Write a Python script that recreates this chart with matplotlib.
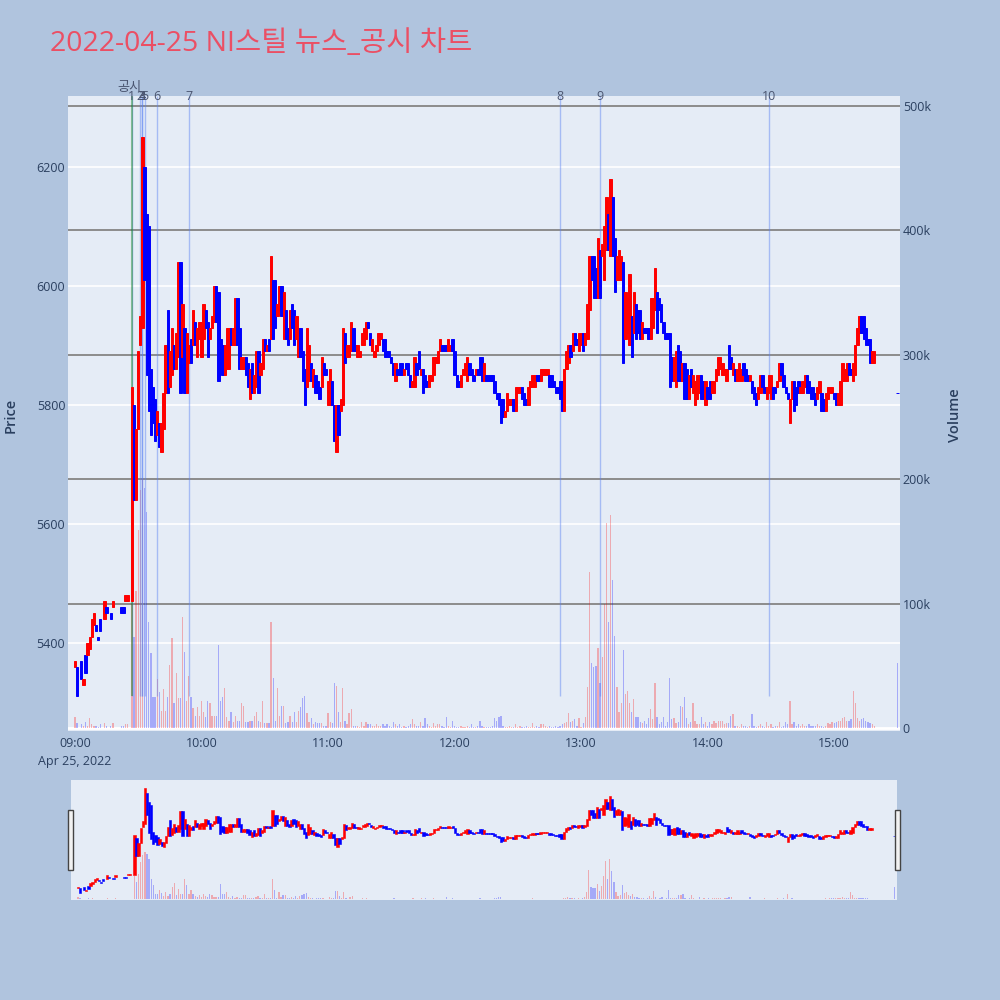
import matplotlib
matplotlib.use("Agg")
import matplotlib.pyplot as plt
from matplotlib.patches import Rectangle
import numpy as np

plt.rcParams['font.family'] = ['Open Sans', 'Noto Sans CJK KR', 'DejaVu Sans']

title = "2022-04-25 NI스틸 뉴스_공시 차트"

# minutes after 09:00 for the sparse opening bars
early_minutes = [0, 1, 3, 4, 5, 6, 7, 8, 9, 10, 11, 12, 14, 15, 17, 18, 22, 23, 24, 25]
early_open = [5360, 5360, 5370, 5330, 5380, 5380, 5390, 5410, 5430, 5430,
              5410, 5440, 5440, 5460, 5450, 5460, 5460, 5460, 5470, 5470]
early_close = [5370, 5310, 5340, 5340, 5350, 5400, 5410, 5440, 5450, 5420,
               5405, 5420, 5470, 5450, 5440, 5470, 5450, 5450, 5480, 5480]
early_volume_k = [9, 4, 3, 2, 5, 2, 8, 3, 2, 2, 1, 3, 4, 2, 2, 4, 2, 2, 3, 3]

# one bar per minute from 09:27 on
session_start = 27
session_open = [
    # 09:27
    5470, 5800, 5640, 5760, 5900, 5930, 6200, 6120, 6100, 5860,
    5830, 5810, 5750, 5770, 5720, 5760, 5820, 5960, 5830, 5850,
    5900, 5860, 5880, 6040, 5880, 5930, 5820, 5870, 5910, 5900,
    5940, 5880, 5910, 5880, 5910, 5960, 5940, 5910, 5930, 5940,
    6000, 5990, 5910, 5900, 5850, 5860, 5860, 5930, 5900, 5900,
    5980, 5930, 5860, 5860, 5880, 5870, 5810, 5870, 5820, 5830,
    5890, 5850, 5860, 5910, 5890,
    # 10:32
    5910, 5910, 6010, 6010, 5950, 5960, 6000, 5910, 5960, 5930,
    5910, 5970, 5960, 5910, 5880, 5930, 5890, 5860, 5830, 5840,
    5870, 5830, 5850, 5840, 5830, 5830, 5870, 5860, 5800, 5800,
    5840, 5800, 5720, 5800, 5790, 5800, 5920, 5880, 5880, 5890,
    5930, 5900, 5880, 5880, 5900, 5900, 5910, 5940, 5920, 5890, 5880,
    5890, 5900, 5910, 5910, 5910, 5890, 5890, 5880, 5870, 5840,
    5860, 5870, 5870, 5850, 5870, 5870, 5850, 5830, 5830, 5870,
    5890, 5850, 5860, 5850, 5840, 5830, 5840, 5850, 5870, 5870,
    5890, 5900, 5900, 5900, 5890, 5890, 5910, 5890, 5850, 5840,
    5830, 5850, 5850, 5840, 5870, 5860, 5850, 5850, 5860, 5880,
    5880, 5840, 5850, 5850,
    5850, 5850, 5840, 5820, 5820, 5810, 5810, 5780, 5790, 5800,
    5800, 5810, 5790, 5820, 5820, 5830, 5820, 5810, 5800, 5830,
    5830, 5830, 5850, 5850,
    # 12:41
    5840, 5850, 5850, 5850, 5850, 5850, 5840, 5830, 5830, 5840,
    5840, 5790, 5860, 5870, 5900, 5890, 5920, 5910, 5890, 5900,
    5920, 5900, 5910, 5960, 6050, 6050, 6030, 5980, 6060, 6050,
    6010, 6060, 6120, 6050, 6150, 6080, 6010, 6010, 6010, 6040,
    5910, 5920, 5900, 5950, 5920, 5970, 5960, 5960, 5910, 5930,
    5930, 5930, 5910, 5930, 5960, 5990, 5980, 5970, 5940, 5920,
    5920, 5920, 5880, 5840, 5830, 5900, 5890, 5840, 5870, 5860,
    5810, 5860, 5820, 5800, 5810, 5820, 5850, 5840, 5800, 5830,
    5840, 5820, 5820, 5840, 5850, 5860, 5850, 5850, 5840, 5900,
    5880, 5850, 5860, 5840, 5840,
    # 14:16
    5840, 5870, 5860, 5850, 5840, 5840, 5830, 5820, 5810, 5820,
    5850, 5830, 5810, 5820, 5810, 5830, 5830, 5830, 5840, 5870,
    5850, 5830, 5820, 5770, 5810, 5840, 5830, 5840, 5820, 5820,
    5830, 5850, 5840, 5830, 5830, 5820, 5810, 5820, 5820, 5810,
    5790, 5810, 5820, 5820, 5820, 5820, 5800, 5800, 5840, 5840,
    5840, 5870, 5860, 5840, 5850, 5900, 5920, 5950, 5950, 5930,
    5910, 5910, 5870, 5870,
]
session_close = [
    5830, 5640, 5760, 5890, 5950, 6250, 6010, 5850, 5790, 5750,
    5770, 5740, 5790, 5730, 5770, 5820, 5900, 5820, 5890, 5930,
    5860, 5920, 6040, 5820, 5970, 5820, 5920, 5900, 5870, 5960,
    5900, 5930, 5940, 5940, 5970, 5930, 5880, 5930, 5950, 6000,
    5940, 5840, 5860, 5850, 5900, 5930, 5930, 5900, 5930, 5980,
    5900, 5860, 5880, 5880, 5850, 5830, 5860, 5820, 5850, 5890,
    5820, 5870, 5910, 5890, 5900,
    5890, 6050, 5910, 5930, 5970, 6000, 5950, 5990, 5910, 5900,
    5960, 5930, 5900, 5950, 5930, 5880, 5840, 5800, 5930, 5900,
    5840, 5860, 5820, 5820, 5810, 5880, 5850, 5850, 5840, 5860,
    5800, 5740, 5800, 5750, 5810, 5930, 5870, 5900, 5900, 5940,
    5890, 5890, 5900, 5890, 5920, 5930, 5940, 5930, 5900, 5910, 5890,
    5900, 5920, 5920, 5890, 5880, 5880, 5880, 5870, 5850, 5870,
    5850, 5850, 5850, 5860, 5860, 5850, 5830, 5840, 5880, 5850,
    5860, 5860, 5820, 5830, 5830, 5850, 5850, 5880, 5880, 5890,
    5910, 5890, 5890, 5890, 5910, 5900, 5890, 5850, 5830, 5830,
    5850, 5860, 5870, 5880, 5850, 5850, 5840, 5860, 5850, 5850,
    5840, 5870, 5840, 5840,
    5840, 5840, 5820, 5810, 5800, 5770, 5780, 5790, 5820, 5810,
    5810, 5790, 5830, 5830, 5830, 5810, 5800, 5800, 5830, 5840,
    5850, 5850, 5840, 5840,
    5860, 5860, 5860, 5860, 5830, 5830, 5830, 5820, 5820, 5810,
    5790, 5860, 5890, 5900, 5880, 5920, 5900, 5900, 5920, 5920,
    5890, 5920, 5970, 6050, 6010, 5980, 5980, 6080, 5980, 6070,
    6100, 6150, 6060, 6180, 6050, 5990, 6050, 6060, 6050, 5870,
    5990, 5980, 6020, 5880, 5990, 5910, 5920, 5910, 5940, 5920,
    5920, 5910, 5980, 5980, 6030, 5920, 5960, 5940, 5920, 5910,
    5910, 5830, 5840, 5880, 5890, 5840, 5840, 5870, 5810, 5810,
    5850, 5830, 5850, 5840, 5850, 5850, 5810, 5810, 5840, 5810,
    5810, 5840, 5840, 5860, 5880, 5880, 5870, 5860, 5860, 5860,
    5860, 5870, 5840, 5860, 5870,
    5860, 5850, 5840, 5840, 5850, 5820, 5810, 5800, 5830, 5850,
    5830, 5820, 5830, 5850, 5850, 5810, 5820, 5840, 5870, 5850,
    5830, 5820, 5810, 5810, 5840, 5790, 5800, 5820, 5830, 5840,
    5850, 5820, 5820, 5810, 5810, 5800, 5830, 5840, 5790, 5790,
    5820, 5830, 5830, 5830, 5810, 5800, 5820, 5840, 5870, 5860,
    5870, 5850, 5850, 5870, 5900, 5930, 5950, 5920, 5910, 5900,
    5900, 5870, 5890, 5890,
]
session_volume_k = [
    100, 73, 110, 159, 191, 200, 193, 174, 85, 60,
    25, 25, 39, 29, 14, 31, 14, 25, 51, 72,
    20, 44, 24, 24, 89, 61, 22, 42, 25, 16,
    10, 17, 10, 22, 13, 9, 22, 20, 10, 10,
    10, 67, 22, 25, 32, 9, 6, 13, 5, 10,
    6, 6, 20, 18, 5, 5, 6, 6, 10, 13,
    6, 5, 22, 4, 4,
    4, 85, 40, 6, 32, 10, 18, 18, 4, 5,
    10, 5, 13, 5, 14, 17, 24, 26, 12, 5,
    8, 3, 5, 4, 4, 4, 2, 2, 12, 5,
    4, 36, 34, 13, 5, 32, 6, 3, 12, 15,
    2, 2, 2, 1, 5, 2, 5, 3, 3, 2, 2,
    3, 2, 2, 3, 2, 3, 2, 1, 5, 3,
    2, 3, 1, 2, 1, 2, 3, 7, 3, 2,
    2, 5, 2, 8, 3, 2, 1, 4, 2, 3,
    3, 2, 1, 9, 2, 1, 6, 2, 1, 1,
    2, 1, 1, 2, 1, 3, 1, 1, 2, 6,
    2, 1, 1, 1,
    1, 2, 8, 6, 9, 10, 2, 1, 1, 2,
    1, 1, 3, 1, 2, 1, 1, 2, 1, 1,
    4, 1, 2, 1,
    3, 3, 2, 1, 2, 1, 1, 2, 1, 2,
    3, 4, 5, 12, 5, 6, 7, 2, 8, 1,
    4, 9, 33, 125, 52, 49, 50, 64, 36, 57,
    100, 165, 85, 171, 119, 74, 33, 13, 20, 63,
    27, 30, 20, 13, 23, 9, 9, 5, 4, 6,
    3, 8, 15, 7, 36, 9, 3, 5, 9, 2,
    5, 40, 7, 8, 4, 5, 18, 17, 25, 8,
    3, 5, 20, 6, 3, 3, 9, 3, 5, 2,
    5, 3, 6, 4, 6, 6, 6, 3, 4, 4,
    10, 11, 2, 2, 1,
    3, 2, 2, 1, 2, 11, 2, 1, 2, 3,
    2, 1, 5, 2, 3, 1, 2, 2, 5, 1,
    2, 5, 3, 22, 3, 5, 2, 3, 2, 3,
    2, 2, 3, 2, 2, 2, 3, 2, 2, 1,
    2, 4, 3, 5, 4, 5, 6, 6, 8, 9,
    6, 6, 7, 30, 20, 8, 6, 7, 8, 6,
    5, 4, 3, 2,
]

# 15:30 closing auction
auction_minute = 390
auction_price = 5820
auction_volume_k = 52

# news / disclosure markers (minutes after 09:00)
news_minutes = [27, 31, 32, 32, 33, 39, 54, 230, 249, 329]
news_labels = ["1", "2", "3", "4", "5", "6", "7", "8", "9", "10"]
disclosure_minute = 27
marker_low = 5310

price_ticks = [5400, 5600, 5800, 6000, 6200]
volume_ticks = [0, 100000, 200000, 300000, 400000, 500000]
volume_tick_labels = ["0", "100k", "200k", "300k", "400k", "500k"]
time_ticks = [0, 60, 120, 180, 240, 300, 360]
time_tick_labels = ["09:00\nApr 25, 2022", "10:00", "11:00", "12:00", "13:00", "14:00", "15:00"]

minutes = np.array(early_minutes + list(range(session_start, session_start + len(session_open))) + [auction_minute])
opens = np.array(early_open + session_open + [auction_price])
closes = np.array(early_close + session_close + [auction_price])
volumes = np.array(early_volume_k + session_volume_k + [auction_volume_k]) * 1000.0

PRICE_LIM = (5252, 6319)
VOL_LIM = (-2400, 508000)
X_LIM = (-3.3, 391.2)
BG = "#B0C4DE"
PLOT_BG = "#E5ECF6"
TXT = "#2a3f5f"

up = closes > opens
candle_colors = np.where(up, "#FF0000", "#0000FF")
vol_colors = [(1, 0, 0, 0.28) if u else (0, 0, 1, 0.28) for u in up]


def draw(axv, axp, small=False):
    axv.set_facecolor(PLOT_BG)
    axv.set_xlim(*X_LIM)
    axv.set_ylim(*VOL_LIM)
    axp.set_ylim(*PRICE_LIM)
    for s in list(axv.spines.values()) + list(axp.spines.values()):
        s.set_visible(False)
    if not small:
        # price gridlines (white), drawn under the volume bars
        for p in price_ticks:
            f = (p - PRICE_LIM[0]) / (PRICE_LIM[1] - PRICE_LIM[0])
            axv.plot([0, 1], [f, f], transform=axv.transAxes, color="white", lw=1.2, zorder=0.5)
        for v in volume_ticks[1:]:
            axv.axhline(v, color="#8c8c8c", lw=1.4, zorder=0.6)
        axv.axhline(0, color="white", lw=2, zorder=0.7)
    axv.bar(minutes, volumes, width=0.6, color=vol_colors, linewidth=0, zorder=2)
    body = np.abs(closes - opens)
    axp.bar(minutes, body, bottom=np.minimum(opens, closes), width=1.1,
            color=candle_colors, edgecolor=candle_colors,
            linewidth=0.4 if small else 0.7, zorder=3)


fig = plt.figure(figsize=(10, 10), dpi=100, facecolor=BG)

axv = fig.add_axes([0.068, 0.269, 0.832, 0.635])
axp = axv.twinx()
draw(axv, axp)

axp.yaxis.tick_left()
axp.yaxis.set_label_position("left")
axv.yaxis.tick_right()
axp.set_yticks(price_ticks)
axp.set_yticklabels([str(p) for p in price_ticks])
axv.set_yticks(volume_ticks)
axv.set_yticklabels(volume_tick_labels)
axv.set_xticks(time_ticks)
axv.set_xticklabels(time_tick_labels)
axv.tick_params(axis="x", length=0, pad=4, labelsize=9, labelcolor=TXT)
axv.tick_params(axis="y", length=0, pad=2, labelsize=9, labelcolor=TXT)
axp.tick_params(axis="y", length=0, pad=2, labelsize=9, labelcolor=TXT)
axv.get_xticklabels()[0].set_linespacing(1.5)

# news markers
axp.vlines(news_minutes, marker_low, PRICE_LIM[1], color=(0.35, 0.5, 0.95), alpha=0.45, lw=1, zorder=1)
axp.vlines([disclosure_minute], marker_low, PRICE_LIM[1], color="green", alpha=0.4, lw=1.5, zorder=1.1)
for m, lab in zip(news_minutes, news_labels):
    axp.text(m, PRICE_LIM[1], lab, ha="center", va="center", fontsize=9, color="#4a5570",
             clip_on=False, zorder=5)
axp.annotate("공시", xy=(disclosure_minute, PRICE_LIM[1]), xytext=(-2, 9), textcoords="offset pixels",
             ha="center", va="center", fontsize=9.5, color="#4a5570", annotation_clip=False)

fig.text(0.011, 0.585, "Price", rotation=90, ha="center", va="center", fontsize=10.5, color=TXT, fontweight="semibold")
fig.text(0.955, 0.585, "Volume", rotation=90, ha="center", va="center", fontsize=10.5, color=TXT, fontweight="semibold")
fig.text(0.05, 0.949, title, fontsize=20.5, color="#EB4F64", ha="left", va="baseline")

# range slider
sv = fig.add_axes([0.071, 0.100, 0.826, 0.120])
sp = sv.twinx()
draw(sv, sp, small=True)
for a in (sv, sp):
    a.set_xticks([])
    a.set_yticks([])
for hx in (0.068, 0.895):
    fig.patches.append(Rectangle((hx, 0.130), 0.005, 0.060, transform=fig.transFigure,
                                 facecolor="#f2f2f2", edgecolor="#444444", lw=1))

fig.savefig("out.png", dpi=100, facecolor=BG)
